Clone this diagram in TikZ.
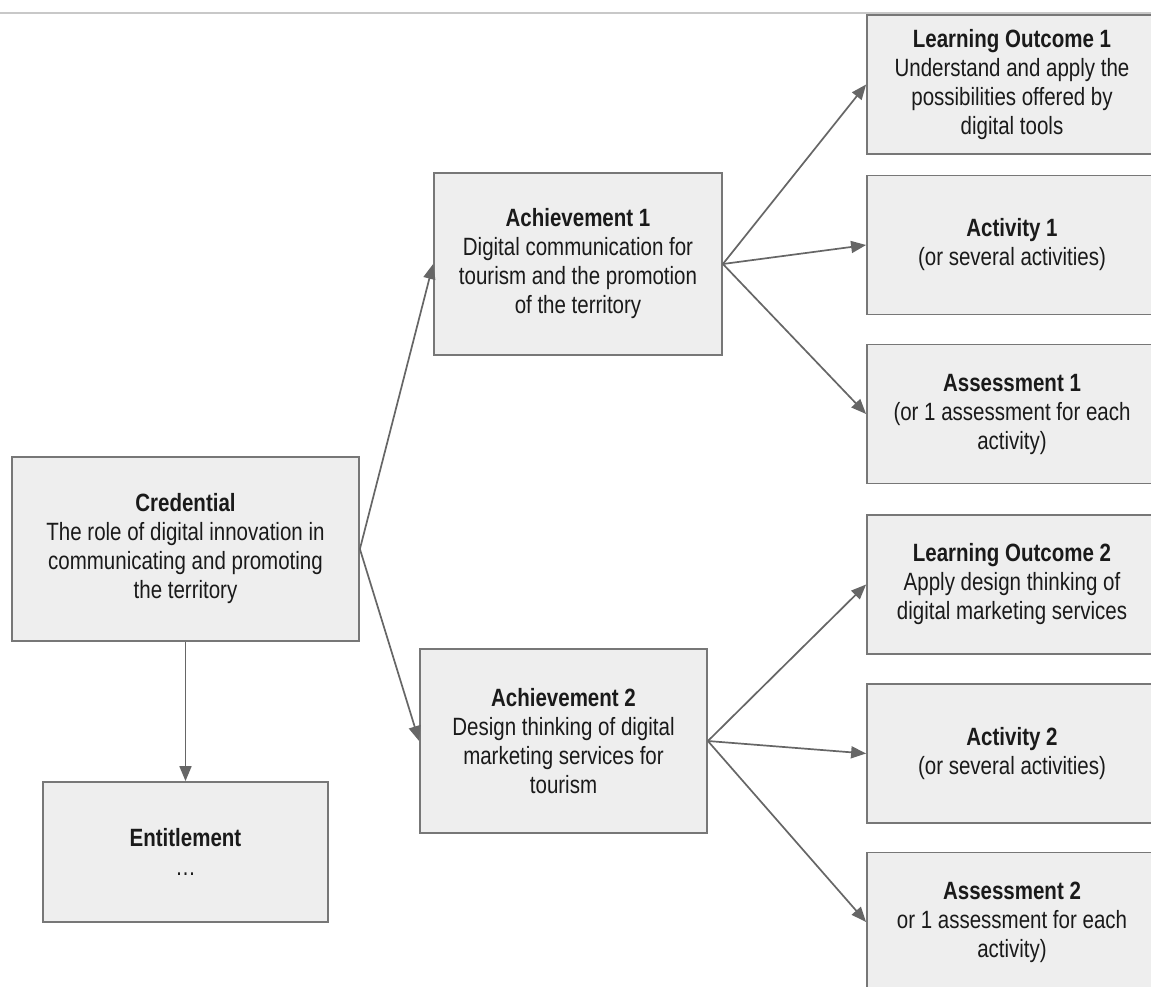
\documentclass[tikz,border=0pt]{standalone}
\usepackage{fontspec}
\setmainfont{Liberation Sans}[FakeStretch=0.82]
\usetikzlibrary{arrows.meta}
\definecolor{boxfill}{HTML}{EEEEEE}
\definecolor{boxline}{HTML}{777777}
\definecolor{arrowcol}{HTML}{666666}
\definecolor{txtcol}{HTML}{1A1A1A}
\definecolor{topline}{HTML}{C8C8C8}
\tikzset{
  box/.style={draw=boxline, fill=boxfill, line width=1.8pt, inner sep=0pt,
    align=center, text=txtcol, font=\fontsize{25}{29}\selectfont},
  rbox/.style={box, minimum width=290pt, minimum height=139pt},
  conn/.style={draw=arrowcol, line width=1.7pt, -{Triangle[length=15pt,width=12pt]}}
}
\begin{document}
\begin{tikzpicture}[x=1pt,y=-1pt]
\clip (0,0) rectangle (1151,987);
\fill[white] (0,0) rectangle (1151,987);
\draw[topline, line width=2.5pt] (0,13) -- (1151,13);

\node[rbox] (lo1) at (1012,84.5) {\textbf{Learning Outcome 1}\\Understand and apply the\\possibilities offered by\\digital tools};
\node[rbox] (act1) at (1012,245) {\textbf{Activity 1}\\(or several activities)};
\node[rbox] (ass1) at (1012,414) {\textbf{Assessment 1}\\(or 1 assessment for each\\activity)};
\node[rbox] (lo2) at (1012,584.5) {\textbf{Learning Outcome 2}\\Apply design thinking of\\digital marketing services};
\node[rbox] (act2) at (1012,753.5) {\textbf{Activity 2}\\(or several activities)};
\node[rbox] (ass2) at (1012,922) {\textbf{Assessment 2}\\or 1 assessment for each\\activity)};

\node[box, minimum width=288pt, minimum height=182pt] (ach1) at (578,264) {\textbf{Achievement 1}\\Digital communication for\\tourism and the promotion\\of the territory};
\node[box, minimum width=287pt, minimum height=184pt] (ach2) at (563.5,741) {\textbf{Achievement 2}\\Design thinking of digital\\marketing services for\\tourism};

\node[box, minimum width=347pt, minimum height=184pt] (cred) at (185.5,549) {\textbf{Credential}\\The role of digital innovation in\\communicating and promoting\\the territory};
\node[box, minimum width=285pt, minimum height=140pt] (ent) at (185.5,852) {\textbf{Entitlement}\\\ldots};

\draw[conn] (cred.east) -- (ach1.west);
\draw[conn] (cred.east) -- (ach2.west);
\draw[conn] (cred.south) -- (ent.north);
\draw[conn] (ach1.east) -- (lo1.west);
\draw[conn] (ach1.east) -- (act1.west);
\draw[conn] (ach1.east) -- (ass1.west);
\draw[conn] (ach2.east) -- (lo2.west);
\draw[conn] (ach2.east) -- (act2.west);
\draw[conn] (ach2.east) -- (ass2.west);
\end{tikzpicture}
\end{document}
